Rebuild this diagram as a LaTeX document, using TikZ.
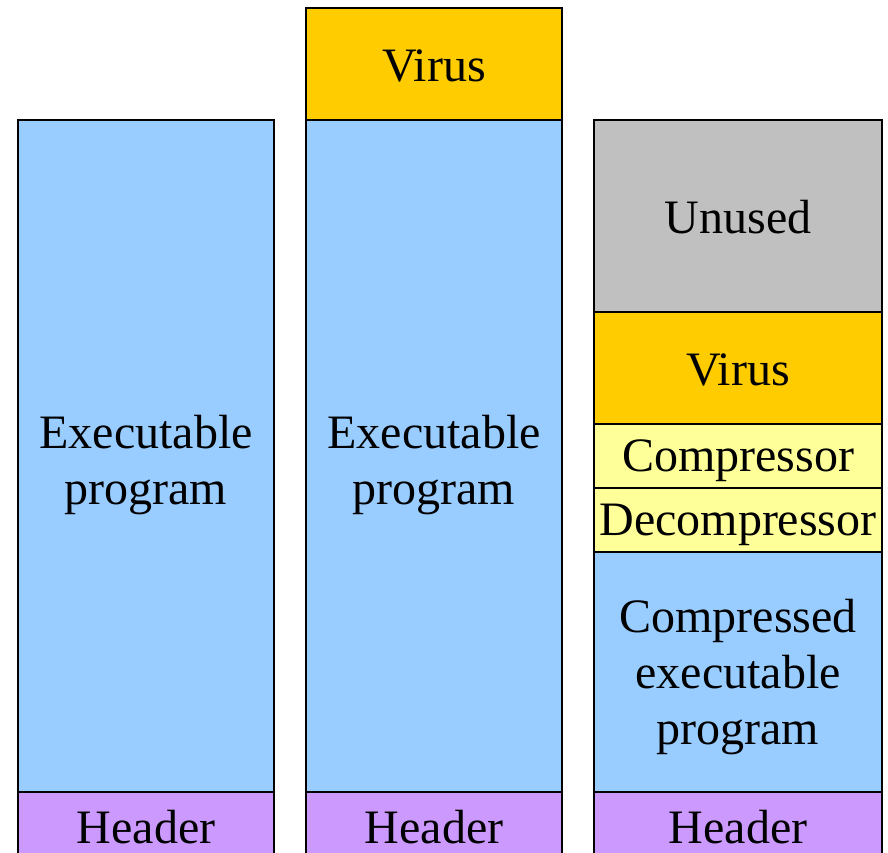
\documentclass[tikz,border=0pt]{standalone}
\usepackage{fontspec}
\setmainfont{Liberation Serif}
\definecolor{progblue}{HTML}{99CCFF}
\definecolor{virusorange}{HTML}{FFCC00}
\definecolor{packyellow}{HTML}{FFFF99}
\definecolor{headpurple}{HTML}{CC99FF}
\definecolor{unusedgray}{HTML}{C0C0C0}
\tikzset{
  block/.style={draw=black, line width=2pt},
  lbl/.style={font=\fontsize{48}{56}\selectfont, align=center, inner sep=0pt},
}
\begin{document}
\begin{tikzpicture}[x=1pt,y=-1pt]
\useasboundingbox (0,0) rectangle (888,852);
\clip (0,0) rectangle (888,852);
% column 1: plain executable
\filldraw[block, fill=progblue]   (18,120) rectangle (274,792);
\filldraw[block, fill=headpurple] (18,792) rectangle (274,880);
\node[lbl] (exe1) at (146,465) {Executable\\program};
\node[lbl] (hdr1) at (146,827) {Header};
% column 2: virus appended to the executable
\filldraw[block, fill=virusorange] (306,8) rectangle (562,120);
\filldraw[block, fill=progblue]    (306,120) rectangle (562,792);
\filldraw[block, fill=headpurple]  (306,792) rectangle (562,880);
\node[lbl] (vir2) at (434,66) {Virus};
\node[lbl] (exe2) at (434,465) {Executable\\program};
\node[lbl] (hdr2) at (434,827) {Header};
% column 3: compressing virus
\filldraw[block, fill=unusedgray]  (594,120) rectangle (882,312);
\filldraw[block, fill=virusorange] (594,312) rectangle (882,424);
\filldraw[block, fill=packyellow]  (594,424) rectangle (882,488);
\filldraw[block, fill=packyellow]  (594,488) rectangle (882,552);
\filldraw[block, fill=progblue]    (594,552) rectangle (882,792);
\filldraw[block, fill=headpurple]  (594,792) rectangle (882,880);
\node[lbl] (unu3) at (738,217) {Unused};
\node[lbl] (vir3) at (738,370) {Virus};
\node[lbl] (cmp3) at (738,461) {Compressor};
\node[lbl] (dec3) at (738,525) {Decompressor};
\node[lbl] (exe3) at (738,677) {Compressed\\executable\\program};
\node[lbl] (hdr3) at (738,827) {Header};
\end{tikzpicture}
\end{document}
